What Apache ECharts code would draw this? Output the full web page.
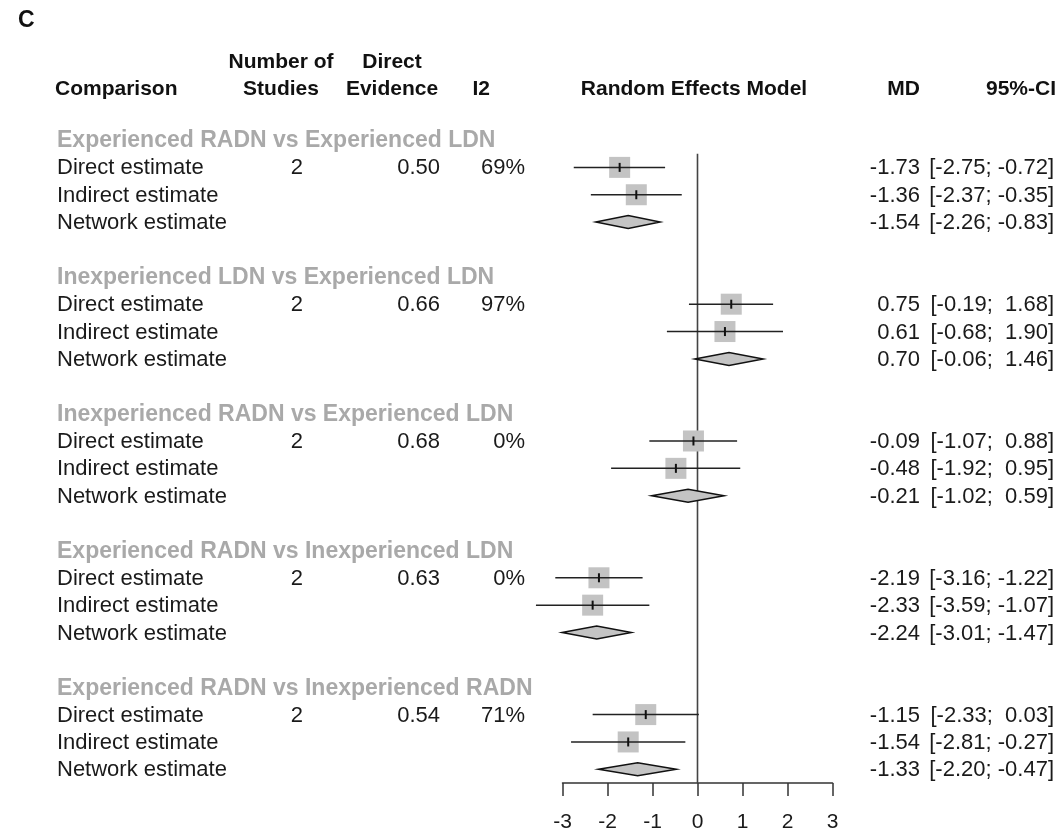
<!DOCTYPE html>
<html>
<head>
<meta charset="utf-8">
<script src="https://cdn.jsdelivr.net/npm/echarts@6/dist/echarts.min.js"></script>
<style>
  html, body { margin: 0; padding: 0; background: #fff; }
  #chart { width: 1063px; height: 834px; }
</style>
</head>
<body>
<div id="chart"></div>
<script>
// Comparisons and their per-comparison statistics
const comparisons = [
  'Experienced RADN vs Experienced LDN',
  'Inexperienced LDN vs Experienced LDN',
  'Inexperienced RADN vs Experienced LDN',
  'Experienced RADN vs Inexperienced LDN',
  'Experienced RADN vs Inexperienced RADN'
];
const numStudies = [2, 2, 2, 2, 2];
const directEvidence = ['0.50', '0.66', '0.68', '0.63', '0.54'];
const i2Values = ['69%', '97%', '0%', '0%', '71%'];

// Mean differences with 95% CI: direct, indirect and network estimates
const directMD = [-1.73, 0.75, -0.09, -2.19, -1.15];
const directLo = [-2.75, -0.19, -1.07, -3.16, -2.33];
const directHi = [-0.72, 1.68, 0.88, -1.22, 0.03];
const indirectMD = [-1.36, 0.61, -0.48, -2.33, -1.54];
const indirectLo = [-2.37, -0.68, -1.92, -3.59, -2.81];
const indirectHi = [-0.35, 1.90, 0.95, -1.07, -0.27];
const networkMD = [-1.54, 0.70, -0.21, -2.24, -1.33];
const networkLo = [-2.26, -0.06, -1.02, -3.01, -2.20];
const networkHi = [-0.83, 1.46, 0.59, -1.47, -0.47];

const estimateLabels = ['Direct estimate', 'Indirect estimate', 'Network estimate'];
const xTicks = [-3, -2, -1, 0, 1, 2, 3];

const FONT = '"Liberation Sans", Arial, Helvetica, sans-serif';
const BODY = 22;

function fmt(v) {
  const s = Math.abs(v).toFixed(2);
  return v < 0 ? '-' + s : ' ' + s;
}

// Row layout: each comparison takes a header row, three estimate rows and a gap
const estimates = [];   // [md, lo, hi, row, kind]
const tableRows = [];   // {row, kind, g, k}
comparisons.forEach((c, g) => {
  const base = g * 5;
  tableRows.push({ row: base, kind: 'header', g: g });
  const sets = [
    [directMD, directLo, directHi],
    [indirectMD, indirectLo, indirectHi],
    [networkMD, networkLo, networkHi]
  ];
  sets.forEach((s, k) => {
    estimates.push([s[0][g], s[1][g], s[2][g], base + 1 + k, k]);
    tableRows.push({ row: base + 1 + k, kind: 'est', g: g, k: k, md: s[0][g], lo: s[1][g], hi: s[2][g] });
  });
});

const chart = echarts.init(document.getElementById('chart'), null, { renderer: 'canvas' });

function txt(x, y, text, opts) {
  return {
    type: 'text',
    style: Object.assign({
      x: x, y: y, text: text,
      font: 'normal ' + BODY + 'px ' + FONT,
      fill: '#1a1a1a',
      textAlign: 'left',
      textVerticalAlign: 'middle'
    }, opts || {})
  };
}

const option = {
  animation: false,
  backgroundColor: '#ffffff',
  grid: { left: 562.5, right: 230.5, top: 153.7, bottom: 51, containLabel: false },
  xAxis: {
    type: 'value', min: -3, max: 3, interval: 1,
    axisLine: { show: true, onZero: false, lineStyle: { color: '#333', width: 1.5 } },
    axisTick: { show: true, length: 13, lineStyle: { color: '#333', width: 1.5 } },
    axisLabel: {
      show: true, margin: 29, color: '#1a1a1a', fontSize: 21, fontFamily: FONT,
      formatter: v => xTicks.indexOf(v) >= 0 ? String(v) : ''
    },
    splitLine: { show: false }
  },
  yAxis: {
    type: 'value', inverse: true, min: 0.5, max: 23.5,
    show: false
  },
  graphic: [
    { type: 'text', left: 18, top: 9, style: { text: 'C', font: 'bold 23px ' + FONT, fill: '#111' } }
  ],
  series: [
    {
      // Line of no effect
      type: 'line',
      data: [[0, 0.5], [0, 23.5]],
      symbol: 'none',
      lineStyle: { color: '#444', width: 1.6 },
      silent: true,
      z: 1
    },
    {
      // Squares with CI whiskers, diamonds for network estimates
      type: 'custom',
      data: estimates,
      clip: false,
      z: 3,
      renderItem: function (params, api) {
        const md = api.value(0), lo = api.value(1), hi = api.value(2), row = api.value(3), kind = api.value(4);
        const p = api.coord([md, row]);
        const pl = api.coord([lo, row]);
        const ph = api.coord([hi, row]);
        const y = p[1];
        if (kind === 2) {
          return {
            type: 'polygon',
            shape: { points: [[pl[0], y], [p[0], y - 6.5], [ph[0], y], [p[0], y + 6.5]] },
            style: { fill: '#c4c4c4', stroke: '#111', lineWidth: 1.5 }
          };
        }
        const s = 21;
        return {
          type: 'group',
          children: [
            { type: 'rect', shape: { x: p[0] - s / 2, y: y - s / 2, width: s, height: s },
              style: { fill: '#c3c3c3' } },
            { type: 'line', shape: { x1: pl[0], y1: y, x2: ph[0], y2: y },
              style: { stroke: '#222', lineWidth: 1.5 } },
            { type: 'line', shape: { x1: p[0], y1: y - 4.5, x2: p[0], y2: y + 4.5 },
              style: { stroke: '#111', lineWidth: 2 } }
          ]
        };
      }
    },
    {
      // Text table: comparison names, study counts, evidence, I2, MD and CI
      type: 'custom',
      data: tableRows.map(r => [0, r.row]),
      clip: false,
      silent: true,
      z: 4,
      renderItem: function (params, api) {
        const r = tableRows[params.dataIndex];
        const y = api.coord([0, r.row])[1];
        if (r.kind === 'header') {
          return txt(57, y + 1, comparisons[r.g], { font: 'bold 23px ' + FONT, fill: '#a9a9a9' });
        }
        const kids = [txt(57, y + 1, estimateLabels[r.k])];
        if (r.k === 0) {
          kids.push(txt(303, y + 1, String(numStudies[r.g]), { textAlign: 'right' }));
          kids.push(txt(440, y + 1, directEvidence[r.g], { textAlign: 'right' }));
          kids.push(txt(525, y + 1, i2Values[r.g], { textAlign: 'right' }));
        }
        kids.push(txt(920, y + 1, r.md.toFixed(2), { textAlign: 'right' }));
        kids.push(txt(1054, y + 1, '[' + fmt(r.lo) + ';' + fmt(r.hi).replace(/^ /, '  ').replace(/^-/, ' -') + ']', { textAlign: 'right' }));
        return { type: 'group', children: kids };
      }
    },
    {
      // Column headings
      type: 'custom',
      data: [[0, 0]],
      clip: false,
      silent: true,
      renderItem: function () {
        const b = { font: 'bold 21px ' + FONT, fill: '#111' };
        const c = Object.assign({ textAlign: 'center' }, b);
        const rr = Object.assign({ textAlign: 'right' }, b);
        return {
          type: 'group',
          children: [
            txt(55, 89, 'Comparison', b),
            txt(281, 62, 'Number of', c),
            txt(281, 89, 'Studies', c),
            txt(392, 62, 'Direct', c),
            txt(392, 89, 'Evidence', c),
            txt(490, 89, 'I2', rr),
            txt(694, 89, 'Random Effects Model', c),
            txt(920, 89, 'MD', rr),
            txt(1056, 89, '95%-CI', rr)
          ]
        };
      }
    }
  ]
};

chart.setOption(option);
</script>
</body>
</html>
